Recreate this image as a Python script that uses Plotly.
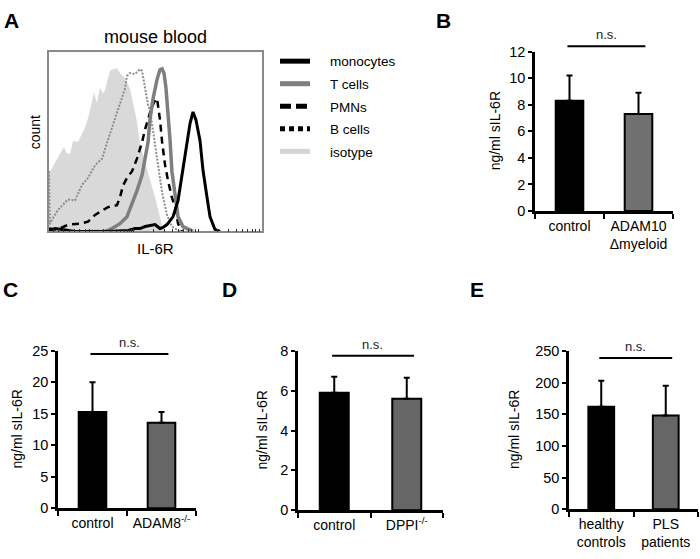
import math
import plotly.graph_objects as go

W, H = 700, 559
FONT = "Arial, 'Liberation Sans', sans-serif"

# ---- panel A: flow histogram (IL-6R intensity 0-100, count 0-100 of max) ----
iso_x = [0, 2.8, 5.2, 7.0, 8.5, 9.9, 11.3, 13.6, 14.6, 16.9, 18.8, 20.2, 21.1, 22.5, 23.9, 25.4, 26.3,
         27.7, 28.6, 30.0, 31.9, 33.3, 35.7, 38.0, 39.4, 41.3, 42.7, 45.1, 47.4, 49.8, 52.1, 53.5, 54.9]
iso_y = [32.4, 37.8, 43.2, 47.0, 43.2, 43.2, 50.3, 49.7, 52.4, 57.8, 64.9, 71.9, 77.3, 71.4, 80.0, 76.8, 78.4,
         85.4, 89.2, 90.3, 90.8, 88.1, 85.4, 79.5, 71.9, 61.1, 48.6, 38.9, 29.7, 18.9, 8.1, 1.1, 0]

bcell_x = [0, 0.4, 1.4, 4.2, 8.9, 12.2, 15.5, 18.3, 21.6, 24.9, 27.2, 29.6, 31.9, 34.3, 35.7, 36.6, 38.0,
           40.4, 42.7, 43.7, 45.1, 46.5, 47.4, 48.8, 50.7, 53.1, 55.4, 57.7, 61.5]
bcell_y = [33.5, 4, 6.5, 11.9, 17.8, 17.3, 25.9, 29.7, 36.8, 40.5, 49.2, 57.8, 66.5, 74.1, 79.5, 86.5, 88.1,
           87.6, 90.3, 89.2, 79.5, 70.3, 67.6, 56.8, 40.5, 21.6, 9.2, 2.7, 0]

pmn_x = [0, 2.8, 6.1, 8.9, 14.6, 18.3, 21.6, 23.9, 27.7, 31.9, 33.3, 34.7, 36.6, 39.0, 41.3, 43.7, 45.1,
         47.4, 49.3, 50.7, 52.1, 53.1, 54.5, 55.9, 57.7, 59.2, 60.6, 62.4]
pmn_y = [1.6, 1.1, 2.2, 3.8, 4.3, 5.4, 9.2, 10.8, 13.5, 14.6, 18.9, 25.4, 29.7, 33.5, 40.5, 49.7, 56.8,
         65.9, 71.9, 74.1, 62.2, 49.7, 36.8, 28.1, 18.9, 13.5, 4.3, 0]

tcell_x = [18.3, 26.3, 29.6, 33.3, 36.6, 39.0, 41.3, 43.7, 45.1, 46.5, 47.4, 48.8, 50.7, 52.1, 53.1, 54.0,
           54.9, 55.9, 56.8, 57.7, 59.2, 60.6, 62.9, 67.6]
tcell_y = [0, 0, 1.6, 4.3, 8.1, 15.1, 22.7, 31.4, 40.5, 49.7, 62.2, 73.5, 84.5, 90.0, 90.5, 88.0,
           80.0, 67.0, 51.4, 33.5, 18.9, 8.1, 2.7, 0]

mono_x = [0, 2.8, 6.1, 12.2, 28.6, 37.1, 40.4, 42.7, 45.1, 47.4, 49.8, 52.1, 53.5, 55.4, 58.2, 60.6, 62.9,
          65.3, 66.2, 67.6, 69.0, 70.9, 72.3, 74.2, 75.6, 77.9, 80.3]
mono_y = [0.5, 1.6, 1.1, 0, 0, 0.5, 1.6, 1.6, 2.7, 3.2, 3.8, 1.6, 2.2, 3.8, 8.1, 17.3, 34.0,
          51.0, 60.0, 66.5, 62.0, 50.5, 34.0, 18.9, 8.1, 1.1, 0]

legend_names = ["monocytes", "T cells", "PMNs", "B cells", "isotype"]

# ---- panels B-E: soluble IL-6R ELISA ----
b_cats = ["control", "ADAM10<br>Δmyeloid"]
b_mean = [8.3, 7.3]
b_err = [1.9, 1.6]

c_cats = ["control", "ADAM8<sup>-/-</sup>"]
c_mean = [15.3, 13.6]
c_err = [4.7, 1.7]

d_cats = ["control", "DPPI<sup>-/-</sup>"]
d_mean = [5.9, 5.6]
d_err = [0.8, 1.05]

e_cats = ["healthy<br>controls", "PLS<br>patients"]
e_mean = [162, 148]
e_err = [41, 47]


def px_x(x):
    return x / W


def px_y(y):
    return 1 - y / H


def label(text, x, y, size, angle=0):
    return dict(text=text, xref="paper", yref="paper", x=px_x(x), y=px_y(y), xanchor="center",
                yanchor="middle", textangle=angle, showarrow=False,
                font=dict(size=size, color="black", family=FONT))


fig = go.Figure()

# histogram curves (drawn back to front)
fig.add_trace(go.Scatter(x=iso_x, y=iso_y, mode="lines", fill="tozeroy", fillcolor="#d9d9d9",
                         line=dict(width=0, color="#d9d9d9"), showlegend=False, xaxis="x", yaxis="y"))
fig.add_trace(go.Scatter(x=bcell_x, y=bcell_y, mode="lines",
                         line=dict(color="#8c8c8c", width=2, dash="2px,1.5px"),
                         showlegend=False, xaxis="x", yaxis="y"))
fig.add_trace(go.Scatter(x=pmn_x, y=pmn_y, mode="lines", line=dict(color="black", width=2.5, dash="7px,5px"),
                         showlegend=False, xaxis="x", yaxis="y"))
fig.add_trace(go.Scatter(x=tcell_x, y=tcell_y, mode="lines", line=dict(color="#7f7f7f", width=3.5),
                         showlegend=False, xaxis="x", yaxis="y"))
fig.add_trace(go.Scatter(x=mono_x, y=mono_y, mode="lines", line=dict(color="black", width=3),
                         showlegend=False, xaxis="x", yaxis="y"))

# legend entries (thicker line samples than the curves)
leg_styles = [("black", "solid"), ("#7f7f7f", "solid"), ("black", "11px,5px"), ("black", "5px,4px"),
              ("#d4d4d4", "solid")]
for i, (name, (col, dash)) in enumerate(zip(legend_names, leg_styles)):
    fig.add_trace(go.Scatter(x=[None], y=[None], mode="lines", name="\u00a0" * 4 + name,
                             legendgroup=name, legendrank=i + 1,
                             line=dict(color=col, width=5, dash=dash), xaxis="x", yaxis="y"))

# bar panels
panels = [
    ("2", b_cats, b_mean, b_err, "#707070", (535, 673, 45, 209), 12, 2, 1.035, 495),
    ("3", c_cats, c_mean, c_err, "#666666", (58, 196, 353, 515), 25, 5, 0.98, 17),
    ("4", d_cats, d_mean, d_err, "#666666", (298, 443, 353, 517), 8, 2, 0.97, 262),
    ("5", e_cats, e_mean, e_err, "#666666", (569, 698, 353, 516), 250, 50, 0.955, 514),
]

layout_axes = {}
shapes = []
annotations = []

for key, cats, mean, err, gray, box, ymax, dtick, ns_y, title_x in panels:
    fig.add_trace(go.Bar(
        x=cats, y=mean, xaxis="x" + key, yaxis="y" + key, showlegend=False,
        marker=dict(color=["black", gray], line=dict(color="black", width=2)),
        error_y=dict(type="data", array=err, arrayminus=[0, 0], symmetric=False,
                     color="black", thickness=2, width=3),
    ))
    x0, x1, y0, y1 = box
    layout_axes["xaxis" + key] = dict(
        domain=[px_x(x0), px_x(x1)], anchor="y" + key, showline=True, linecolor="black", linewidth=2.5,
        ticks="outside", tickson="boundaries", ticklen=5, tickwidth=2, tickcolor="black",
        showgrid=False, zeroline=False, tickfont=dict(size=14, color="black", family=FONT),
    )
    layout_axes["yaxis" + key] = dict(
        domain=[px_y(y1), px_y(y0)], anchor="x" + key, range=[0, ymax], dtick=dtick,
        showline=True, linecolor="black", linewidth=2.5, ticks="outside", ticklen=4, tickwidth=2,
        tickcolor="black", showgrid=False, zeroline=False,
        tickfont=dict(size=14.5, color="black", family=FONT),
    )
    shapes.append(dict(type="line", xref="x" + key, yref="y" + key + " domain",
                       x0=-0.03, x1=1.1, y0=ns_y, y1=ns_y, line=dict(color="black", width=2)))
    annotations.append(dict(text="n.s.", xref="x" + key, yref="y" + key + " domain", x=0.53, y=ns_y,
                            xanchor="center", yanchor="bottom", yshift=2, showarrow=False,
                            font=dict(size=13, color="#222", family=FONT)))
    annotations.append(label("ng/ml sIL-6R", title_x, (y0 + y1) / 2, 14, -90))

# histogram tick marks (biexponential-like display axis)
hist_ticks = [2 + 2.5 * i for i in range(7)]
for a, b in [(19.2, 39.9), (39.9, 70.0), (70.0, 100.0)]:
    hist_ticks += [a + math.log10(k) * (b - a) for k in range(1, 10)]

layout_axes["xaxis"] = dict(domain=[px_x(49), px_x(262)], anchor="y", range=[0, 100], showline=True,
                            mirror=True, linecolor="#8a8a8a", linewidth=1.5, ticks="inside", ticklen=3,
                            tickwidth=1, tickcolor="#333", tickvals=hist_ticks, showticklabels=False,
                            showgrid=False, zeroline=False)
layout_axes["yaxis"] = dict(domain=[px_y(230), px_y(45)], anchor="x", range=[0, 100], showline=True,
                            mirror=True, linecolor="#8a8a8a", linewidth=1.5, showticklabels=False,
                            ticks="", showgrid=False, zeroline=False)

# text labels
for letter, (lx, ly) in {"A": (11, 13), "B": (443, 13), "C": (10, 290), "D": (229, 290), "E": (477, 290)}.items():
    annotations.append(label("<b>" + letter + "</b>", lx, ly, 21))
annotations.append(label("mouse blood", 155, 30, 18))
annotations.append(label("IL-6R", 155, 248, 15))
annotations.append(label("count", 35, 128, 14, -90))

fig.update_layout(
    width=W, height=H, margin=dict(l=0, r=0, t=0, b=0),
    paper_bgcolor="white", plot_bgcolor="white",
    bargap=0.6,
    legend=dict(x=px_x(275), y=px_y(39), xanchor="left", yanchor="top", traceorder="grouped",
                tracegroupgap=2, itemwidth=30, bgcolor="rgba(0,0,0,0)",
                font=dict(size=13.5, color="black", family=FONT)),
    shapes=shapes, annotations=annotations,
    **layout_axes,
)

# drop the default 8px page margin so the figure sits at the window corner
fig.write_html("out.html", config={"displayModeBar": False},
               post_script="document.body.style.margin='0';")
